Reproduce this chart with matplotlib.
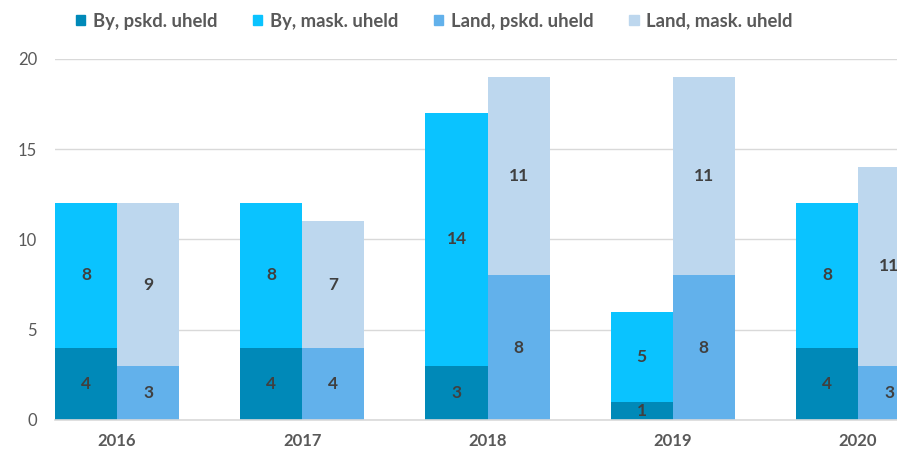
import matplotlib
matplotlib.use("Agg")
import matplotlib.pyplot as plt
import numpy as np
from matplotlib.patches import Patch

years = ["2016", "2017", "2018", "2019", "2020"]
by_pskd = [4, 4, 3, 1, 4]
by_mask = [8, 8, 14, 5, 8]
land_pskd = [3, 4, 8, 8, 3]
land_mask = [9, 7, 11, 11, 11]
series_names = ["By, pskd. uheld", "By, mask. uheld", "Land, pskd. uheld", "Land, mask. uheld"]
colors = ["#0089B8", "#0AC3FF", "#62B1EB", "#BDD7EE"]

plt.rcParams['font.family'] = ['Lato', 'DejaVu Sans']

fig = plt.figure(figsize=(8.97, 4.54), dpi=100)
ax = fig.add_axes([55/897, 1-420/454, 1-55/897, (420-58.7)/454])

x = np.arange(len(years))
w = 0.335
txt_col = "#404040"

def stack(xpos, low, high, c_low, c_high):
    low = np.array(low); high = np.array(high)
    ax.bar(xpos, low, w, color=c_low, zorder=2)
    ax.bar(xpos, high, w, bottom=low, color=c_high, zorder=2)
    for xi, l, h in zip(xpos, low, high):
        ax.text(xi, l/2, str(l), ha='center', va='center', fontsize=12.5,
                fontweight='bold', color=txt_col, clip_on=True, zorder=3)
        ax.text(xi, l + h/2, str(h), ha='center', va='center', fontsize=12.5,
                fontweight='bold', color=txt_col, clip_on=True, zorder=3)

stack(x - w/2, by_pskd, by_mask, colors[0], colors[1])
stack(x + w/2, land_pskd, land_mask, colors[2], colors[3])

ax.set_xlim(-w, (897-117)/185.25)
ax.set_ylim(0, 20)
ax.set_yticks([0, 5, 10, 15, 20])
ax.set_xticks(x)
ax.set_xticklabels(years, fontweight='bold')
ax.grid(axis='y', color='#D9D9D9', linewidth=1, zorder=0)
ax.set_axisbelow(True)
for s in ['top', 'right', 'left']:
    ax.spines[s].set_visible(False)
ax.spines['bottom'].set_color('#D9D9D9')
ax.spines['bottom'].set_linewidth(1.2)
ax.tick_params(axis='both', length=0, colors='#595959', labelsize=12)
ax.tick_params(axis='y', pad=13)
ax.tick_params(axis='x', pad=9)

handles = [Patch(color=c) for c in colors]
leg = fig.legend(handles, series_names, loc='center left',
                 bbox_to_anchor=(76/897, 1-21/454), ncol=4, frameon=False,
                 handlelength=0.5, handleheight=0.5, handletextpad=0.4,
                 columnspacing=1.95, borderpad=0, borderaxespad=0,
                 prop={'size': 13.3, 'weight': 'bold'})
for t in leg.get_texts():
    t.set_color('#595959')

fig.savefig("out.png", dpi=100)
